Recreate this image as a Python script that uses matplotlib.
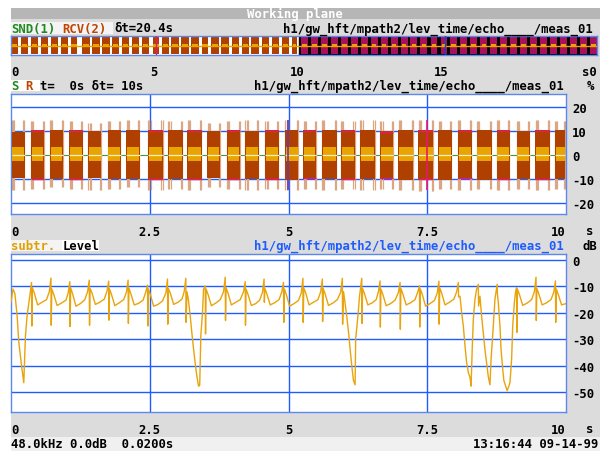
import matplotlib.pyplot as plt
from matplotlib.patches import Rectangle

W, H = 600, 452
FONT = 'DejaVu Sans Mono'
FS = 8.8

# ---- data ----
# receive bursts in the 0..10 s view (start / end in s, block top / bottom in %)
burst_t0 = [0.01, 0.355, 0.70, 1.05, 1.39, 1.74, 2.08, 2.47, 2.83, 3.18, 3.54, 3.89, 4.22, 4.58, 4.94,
            5.27, 5.60, 5.94, 6.29, 6.65, 6.98, 7.34, 7.70, 8.05, 8.39, 8.75, 9.11, 9.45, 9.80]
burst_t1 = [0.25, 0.60, 0.94, 1.29, 1.63, 1.98, 2.32, 2.74, 3.10, 3.44, 3.77, 4.13, 4.46, 4.82, 5.18,
            5.50, 5.87, 6.20, 6.56, 6.89, 7.25, 7.61, 7.94, 8.30, 8.66, 8.99, 9.35, 9.71, 9.99]
block_hi = [9.6, 10.4, 10.2, 10.4, 9.8, 10.2, 10.3, 10.4, 10.2, 10.4, 9.8, 10.4, 10.0, 10.3, 10.4,
            10.2, 10.3, 10.4, 10.2, 10.0, 10.4, 10.2, 10.4, 10.3, 10.4, 10.2, 10.0, 10.4, 10.2]
block_lo = [-9.8, -10.2, -10.0, -10.3, -9.8, -10.1, -10.0, -10.3, -10.2, -10.3, -9.8, -10.3, -10.1, -10.2, -10.3,
            -10.1, -10.2, -10.3, -10.0, -10.1, -10.3, -10.2, -10.3, -10.1, -10.3, -10.2, -10.0, -10.3, -10.1]
tail_hi = [14.5, 14.0, 14.5, 14.0, 13.5, 14.0, 14.5, 14.5, 14.0, 14.5, 13.5, 14.0, 14.5, 14.0, 14.5,
           14.0, 14.5, 14.0, 14.5, 14.0, 14.5, 14.5, 14.0, 14.5, 14.0, 14.5, 14.0, 14.5, 14.0]
tail_lo = [-14.5, -14.0, -13.5, -14.0, -14.5, -14.0, -13.5, -14.5, -14.0, -14.5, -13.5, -14.0, -14.5, -14.0, -14.5,
           -14.0, -14.5, -14.0, -14.5, -14.0, -14.5, -15.0, -14.0, -14.5, -14.0, -14.5, -14.0, -14.5, -14.0]
clip_marks = [1, 3, 7, 9, 11, 13, 15, 17, 19, 21, 23, 25, 27]
cursor_t = [4.99, 7.5]

# overview strip, second half (10..20.4 s)
strip_t0 = [10.12, 10.47, 10.82, 11.16, 11.51, 11.86, 12.21, 12.55, 12.90, 13.25, 13.60, 13.94, 14.29, 14.64, 14.99,
            15.33, 15.68, 16.03, 16.38, 16.72, 17.07, 17.42, 17.77, 18.11, 18.46, 18.81, 19.16, 19.50, 19.85, 20.20]
strip_t1 = [10.36, 10.71, 11.06, 11.40, 11.75, 12.10, 12.45, 12.79, 13.14, 13.49, 13.84, 14.18, 14.53, 14.88, 15.23,
            15.57, 15.92, 16.27, 16.62, 16.96, 17.31, 17.66, 18.01, 18.35, 18.70, 19.05, 19.40, 19.74, 20.09, 20.44]

# subtracted level (dB) vs time (s)
level_t = [
    0.00, 0.036, 0.07, 0.11, 0.14, 0.19, 0.23, 0.26, 0.29, 0.33,
    0.37, 0.375, 0.385, 0.42, 0.48, 0.56, 0.64, 0.69,
    0.72, 0.725, 0.735, 0.77, 0.83, 0.91, 0.99, 1.03,
    1.06, 1.065, 1.075, 1.11, 1.17, 1.25, 1.33, 1.38,
    1.41, 1.415, 1.425, 1.46, 1.52, 1.60, 1.68, 1.73,
    1.76, 1.765, 1.775, 1.81, 1.87, 1.95, 2.03, 2.08,
    2.11, 2.115, 2.125, 2.16, 2.22, 2.30, 2.38, 2.43,
    2.46, 2.465, 2.475, 2.51, 2.57, 2.65, 2.73, 2.79,
    2.82, 2.825, 2.835, 2.87, 2.93, 3.01, 3.08, 3.12,
    3.15, 3.155, 3.17, 3.195, 3.23, 3.27, 3.31, 3.35, 3.38, 3.40, 3.42, 3.45, 3.47,
    3.50, 3.505, 3.515, 3.55, 3.61, 3.69, 3.77, 3.83,
    3.86, 3.865, 3.875, 3.91, 3.97, 4.05, 4.13, 4.19,
    4.22, 4.225, 4.235, 4.27, 4.33, 4.41, 4.48, 4.53,
    4.56, 4.565, 4.575, 4.61, 4.67, 4.75, 4.83, 4.88,
    4.91, 4.915, 4.925, 4.96, 5.02, 5.10, 5.18, 5.23,
    5.26, 5.265, 5.275, 5.31, 5.37, 5.45, 5.53, 5.58,
    5.61, 5.615, 5.625, 5.66, 5.72, 5.80, 5.88, 5.94,
    5.97, 5.975, 5.99, 6.01, 6.05, 6.09, 6.11, 6.14, 6.17, 6.20, 6.21, 6.25, 6.28,
    6.32, 6.325, 6.335, 6.37, 6.43, 6.51, 6.58, 6.62,
    6.65, 6.655, 6.665, 6.70, 6.76, 6.84, 6.92, 6.98,
    7.01, 7.015, 7.025, 7.06, 7.12, 7.20, 7.28, 7.33,
    7.36, 7.365, 7.375, 7.41, 7.47, 7.55, 7.63, 7.68,
    7.71, 7.715, 7.725, 7.76, 7.82, 7.90, 7.98, 8.03,
    8.06, 8.065, 8.09, 8.12, 8.15, 8.18, 8.21, 8.24, 8.27, 8.29, 8.31, 8.33, 8.36, 8.39,
    8.42, 8.425, 8.45, 8.48, 8.51, 8.54, 8.57, 8.60, 8.63, 8.65, 8.69, 8.72,
    8.76, 8.765, 8.78, 8.81, 8.83, 8.86, 8.88, 8.92, 8.94, 8.97, 8.99, 9.02, 9.04, 9.07, 9.09,
    9.11, 9.115, 9.125, 9.16, 9.22, 9.30, 9.38, 9.43,
    9.46, 9.465, 9.475, 9.51, 9.57, 9.65, 9.73, 9.78,
    9.81, 9.815, 9.825, 9.86, 9.92, 10.0,
]
level_db = [
    -16, -11, -12.7, -21, -31, -40, -46.5, -29, -21, -15,
    -8.5, -25, -10.5, -12.5, -17, -16, -15, -12,
    -6.8, -24.7, -11, -13, -17.2, -16.3, -15.2, -12.5,
    -8.2, -25.2, -10.5, -12.8, -17.5, -16.5, -15, -12,
    -7.6, -24.7, -10.8, -12.5, -16.8, -16, -14.8, -11.8,
    -8, -22.8, -11, -13, -17.3, -16.2, -15, -12.2,
    -7.6, -24, -10.6, -12.8, -17, -16.4, -15.2, -12,
    -9.5, -25, -11, -13, -17.5, -16.8, -15.5, -12.5,
    -7.2, -24.3, -10.8, -12.5, -16.8, -16, -14.8, -12,
    -6.9, -23.6, -12, -14.8, -21.4, -30, -37.6, -44.2, -47.8, -47.5, -28.8, -20, -11,
    -9.8, -28, -11, -13, -17.3, -16.3, -15, -12,
    -6.5, -22.9, -10.5, -12.5, -17, -16, -15, -12,
    -8.2, -24.7, -11, -13, -17.2, -16.5, -15.2, -12.3,
    -7.2, -16, -10.8, -12.8, -17, -16.2, -15, -12,
    -8.5, -23.6, -11, -13, -17.5, -16.5, -15.3, -12.5,
    -6.9, -23.6, -10.5, -12.5, -17, -16, -15, -12,
    -7.2, -23.3, -10.8, -12.8, -17.2, -16.3, -15, -12.2,
    -6.9, -24.3, -12, -14.8, -21.4, -29, -33.8, -40, -45.6, -47.3, -30, -21.4, -13.7,
    -6.9, -24, -10.8, -12.8, -17, -16.2, -15, -12,
    -7.9, -25.4, -11, -13, -17.3, -16.5, -15.2, -12.3,
    -8.5, -26.2, -10.8, -12.8, -17, -16.2, -15, -12,
    -9.8, -25.4, -11, -13, -17.5, -16.5, -15.3, -12.5,
    -8, -24.3, -10.5, -12.5, -17, -16, -14.8, -12,
    -8.5, -14, -13.7, -20, -25, -32.5, -38.9, -42.6, -44.5, -47.8, -33.8, -22.6, -14.8, -11,
    -9.2, -17.4, -13.7, -21.4, -27.8, -34, -39, -44.2, -47.3, -37.6, -25, -14.8,
    -9.2, -13, -16, -25, -34, -41.3, -45.6, -48.3, -49.5, -47.8, -46.5, -37.6, -25, -16, -12.3,
    -10.4, -27.4, -11, -13, -17.2, -16.3, -15, -12,
    -6.5, -22.9, -10.8, -12.8, -17, -16.2, -15, -12.2,
    -7.9, -23.6, -11, -13, -17, -16.5,
]

path = 'h1/gw_hft/mpath2/lev_time/echo____/meas_01'

# ---- colours ----
BG = '#dcdcdc'
GRID = '#1e5cff'
FRAME = '#5a88f0'
BROWN = '#b04000'
TAIL = '#dba684'
ORANGE = '#e8a400'
PINK = '#e8186a'
CRIMSON = '#a8105a'

fig = plt.figure(figsize=(W / 100, H / 100), dpi=100)
fig.patch.set_facecolor('white')


def frect(x0, y0, x1, y1, color):
    fig.add_artist(Rectangle((x0 / W, 1 - y1 / H), (x1 - x0) / W, (y1 - y0) / H,
                             transform=fig.transFigure, facecolor=color, edgecolor='none', zorder=-5))


def ftext(x, y, s, color='black', ha='left', **kw):
    fig.text(x / W, 1 - y / H, s, color=color, ha=ha, va='center', family=FONT,
             fontsize=FS, fontweight='bold', **kw)


def ax_at(x0, y0, x1, y1):
    ax = fig.add_axes([x0 / W, 1 - y1 / H, (x1 - x0) / W, (y1 - y0) / H])
    for sp in ax.spines.values():
        sp.set_color(FRAME)
        sp.set_linewidth(1.0)
    return ax


def set_labels(ax, ticks, labels, axis='x'):
    if axis == 'x':
        ax.set_xticks(ticks)
        ax.set_xticklabels(labels, family=FONT, fontsize=FS, fontweight='bold')
    else:
        ax.set_yticks(ticks)
        ax.set_yticklabels(labels, family=FONT, fontsize=FS, fontweight='bold')


# screen background
frect(11, 9, 600, 438, BG)
frect(11, 9, 600, 20, '#b6b6b6')
frect(11, 438, 600, 452, '#f0f0f0')
frect(11, 23, 113, 35, '#f4f4f4')
frect(11, 81, 40, 92, '#ffffff')
frect(11, 241, 62, 252, '#f4f4f4')
frect(62, 241, 99, 252, '#ffffff')

ftext(295, 14.5, 'Working plane', color='white', ha='center')

# row 1
ftext(11, 29, 'SND(1)', color='#1f8a1f')
ftext(62.5, 29, 'RCV(2)', color='#c04400')
ftext(114, 29, 'δt=20.4s')
ftext(593, 29, path, ha='right')

# ---- overview strip ----
ax0 = ax_at(11, 37, 597, 56)
ax0.set_xlim(0, 20.45)
ax0.set_ylim(-13, 13)
ax0.axvspan(10.05, 20.45, color='black', zorder=0)
for a, b in zip(burst_t0, burst_t1):
    ax0.fill_between([a, b], -11.5, 11.5, color=BROWN, lw=0, zorder=1)
    ax0.fill_between([a + 0.03, b - 0.03], -2.5, 2.5, color=ORANGE, lw=0, zorder=2)
for a, b in zip(strip_t0, strip_t1):
    ax0.fill_between([a, b], -11.5, 11.5, color=CRIMSON, lw=0, zorder=1)
    ax0.fill_between([a + 0.04, b - 0.04], -2.5, 2.5, color=ORANGE, lw=0, zorder=2)
ax0.axhline(0, color=ORANGE, lw=1.0, zorder=3)
ax0.axvline(5.06, color=PINK, lw=1.0, zorder=4)
ax0.axvline(15.14, color='#2040c0', lw=1.0, zorder=4)
ax0.set_yticks([])
set_labels(ax0, [0, 5, 10, 15, 20.45], ['0', '5', '10', '15', 's0'])
ax0.tick_params(axis='x', length=0, pad=7.5)
ax0.get_xticklabels()[0].set_ha('left')
ax0.get_xticklabels()[-1].set_ha('right')

# ---- S / R panel ----
ftext(11, 86.5, 'S', color='#1f8a1f')
ftext(25.7, 86.5, 'R', color='#c04400')
ftext(40.4, 86.5, 't=  0s δt= 10s')
ftext(564, 86.5, path, ha='right')
ftext(590, 86.5, '%', ha='center')

ax1 = ax_at(11, 95, 566, 215)
ax1.set_xlim(0, 10)
ax1.set_ylim(-24.6, 25.4)
ax1.hlines([20, 10, -10, -20], 0, 10, color=GRID, lw=1.0, zorder=0)
ax1.axvline(2.5, color=GRID, lw=1.0, zorder=0)
ax1.axvline(5, color=GRID, lw=1.0, zorder=0)
ax1.axvline(7.5, color=GRID, lw=1.0, zorder=0)
ax1.axhline(0, color='#3c9c3c', lw=0.8, zorder=1)
for i, (a, b) in enumerate(zip(burst_t0, burst_t1)):
    ax1.vlines([a + 0.005, a + 0.025, a + 0.045, b - 0.03, b - 0.01], tail_lo[i], tail_hi[i],
               color=TAIL, lw=0.9, zorder=2)
    ax1.fill_between([a, b], block_lo[i], block_hi[i], color=BROWN, lw=0, zorder=3)
    ax1.fill_between([a + 0.015, b - 0.015], -2.6, 3.2, color=ORANGE, lw=0, zorder=4)
    ax1.hlines(0, a, b, color='#fbecc8', lw=0.9, zorder=5)
    if i in clip_marks:
        ax1.hlines([block_hi[i] - 0.3, block_lo[i] + 0.3], a, b, color=PINK, lw=1.0, zorder=5)
ax1.vlines(cursor_t[0], -14.5, 14.5, color='#6a3aa8', lw=1.2, zorder=6)
ax1.vlines(cursor_t[1], -14.5, 14.5, color=PINK, lw=1.2, zorder=6)
set_labels(ax1, [0, 2.5, 5, 7.5, 10], ['0', '2.5', '5', '7.5', '10'])
ax1.get_xticklabels()[0].set_ha('left')
ax1.get_xticklabels()[-1].set_ha('right')
ax1.yaxis.tick_right()
set_labels(ax1, [20, 10, 0, -10, -20], ['20', '10', '0', '-10', '-20'], axis='y')
ax1.tick_params(length=0)
ax1.tick_params(axis='x', pad=8)
ax1.tick_params(axis='y', pad=4.3)
ftext(590, 231.5, 's', ha='center')

# ---- level panel ----
ftext(11, 246.5, 'subtr.', color='#e0a000')
ftext(62.5, 246.5, 'Level')
ftext(564, 246.5, path, color='#1e5cff', ha='right')
ftext(590, 246.5, 'dB', ha='center')

ax2 = ax_at(11, 255, 566, 413)
ax2.set_xlim(0, 10)
ax2.set_ylim(-57.6, 2.3)
ax2.hlines([0, -10, -20, -30, -40, -50], 0, 10, color=GRID, lw=1.0, zorder=0)
ax2.axvline(2.5, color=GRID, lw=1.0, zorder=0)
ax2.axvline(5, color=GRID, lw=1.0, zorder=0)
ax2.axvline(7.5, color=GRID, lw=1.0, zorder=0)
ax2.plot(level_t, level_db, color='#e8a40c', lw=1.0, zorder=3)
set_labels(ax2, [0, 2.5, 5, 7.5, 10], ['0', '2.5', '5', '7.5', '10'])
ax2.get_xticklabels()[0].set_ha('left')
ax2.get_xticklabels()[-1].set_ha('right')
ax2.yaxis.tick_right()
set_labels(ax2, [0, -10, -20, -30, -40, -50], ['0', '-10', '-20', '-30', '-40', '-50'], axis='y')
ax2.tick_params(length=0)
ax2.tick_params(axis='x', pad=8)
ax2.tick_params(axis='y', pad=4.3)
ftext(590, 430, 's', ha='center')

# status line
ftext(11, 445, '48.0kHz 0.0dB  0.0200s')
ftext(598, 445, '13:16:44 09-14-99', ha='right')

fig.savefig('out.png', dpi=100, facecolor=fig.get_facecolor())
